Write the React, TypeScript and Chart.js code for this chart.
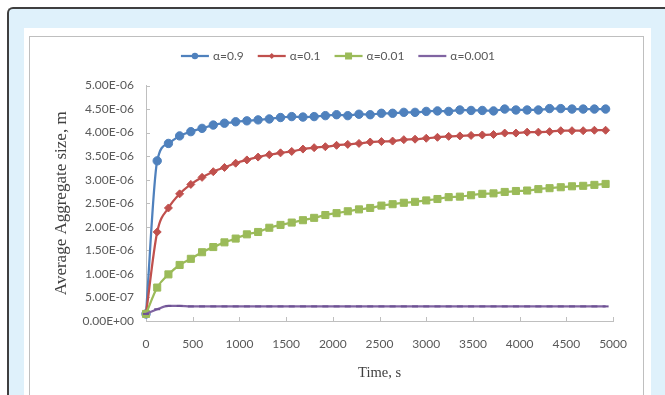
import React, { useEffect, useRef } from "react";
import { Chart, registerables } from "chart.js";

Chart.register(...registerables);

// Time axis (s)
const timesS = [
  0, 120, 240, 360, 480, 600, 720, 840, 960, 1080,
  1200, 1320, 1440, 1560, 1680, 1800, 1920, 2040, 2160, 2280,
  2400, 2520, 2640, 2760, 2880, 3000, 3120, 3240, 3360, 3480,
  3600, 3720, 3840, 3960, 4080, 4200, 4320, 4440, 4560, 4680,
  4800, 4920,
];

// Average aggregate size, in units of 1E-06 m
const alpha09 = [
  0.15, 3.40, 3.77, 3.93, 4.02, 4.09, 4.16, 4.20, 4.23, 4.25,
  4.27, 4.29, 4.32, 4.34, 4.33, 4.34, 4.36, 4.38, 4.36, 4.39,
  4.38, 4.41, 4.41, 4.43, 4.43, 4.45, 4.46, 4.45, 4.48, 4.47,
  4.47, 4.46, 4.50, 4.48, 4.48, 4.48, 4.51, 4.51, 4.50, 4.50,
  4.50, 4.50,
];
const alpha01 = [
  0.15, 1.89, 2.40, 2.70, 2.90, 3.05, 3.17, 3.26, 3.35, 3.42,
  3.48, 3.53, 3.57, 3.60, 3.65, 3.68, 3.70, 3.73, 3.75, 3.77,
  3.80, 3.81, 3.82, 3.85, 3.86, 3.88, 3.90, 3.92, 3.93, 3.94,
  3.95, 3.96, 3.99, 3.99, 4.01, 4.01, 4.02, 4.04, 4.04, 4.04,
  4.05, 4.05,
];
const alpha001 = [
  0.15, 0.71, 0.99, 1.19, 1.32, 1.46, 1.57, 1.67, 1.75, 1.84,
  1.89, 1.98, 2.04, 2.09, 2.14, 2.19, 2.25, 2.29, 2.33, 2.37,
  2.40, 2.45, 2.48, 2.51, 2.53, 2.56, 2.59, 2.63, 2.64, 2.67,
  2.70, 2.71, 2.74, 2.76, 2.77, 2.80, 2.82, 2.84, 2.86, 2.87,
  2.89, 2.91,
];
const alpha0001 = [
  0.15, 0.25, 0.32, 0.32, 0.31, 0.31, 0.31, 0.31, 0.31, 0.31,
  0.31, 0.31, 0.31, 0.31, 0.31, 0.31, 0.31, 0.31, 0.31, 0.31,
  0.31, 0.31, 0.31, 0.31, 0.31, 0.31, 0.31, 0.31, 0.31, 0.31,
  0.31, 0.31, 0.31, 0.31, 0.31, 0.31, 0.31, 0.31, 0.31, 0.31,
  0.31, 0.31,
];

const seriesLabels = ["α=0.9", "α=0.1", "α=0.01", "α=0.001"];
const xTickLabels = ["0", "500", "1000", "1500", "2000", "2500", "3000", "3500", "4000", "4500", "5000"];
const yTickLabels = [
  "0.00E+00", "5.00E-07", "1.00E-06", "1.50E-06", "2.00E-06", "2.50E-06",
  "3.00E-06", "3.50E-06", "4.00E-06", "4.50E-06", "5.00E-06",
];
const xTitle = "Time, s";
const yTitle = "Average Aggregate size, m";

const TICK_COLOR = "#595959";
const AXIS_COLOR = "#BFBFBF";

type Legendish = { pointStyle: string; legendRadius: number };

function drawMarker(ctx: CanvasRenderingContext2D, style: string, x: number, y: number, r: number, color: string) {
  ctx.fillStyle = color;
  ctx.beginPath();
  if (style === "circle") {
    ctx.arc(x, y, r, 0, Math.PI * 2);
    ctx.fill();
  } else if (style === "rectRot") {
    ctx.moveTo(x, y - r);
    ctx.lineTo(x + r, y);
    ctx.lineTo(x, y + r);
    ctx.lineTo(x - r, y);
    ctx.closePath();
    ctx.fill();
  } else if (style === "rect") {
    ctx.rect(x - r, y - r, r * 2, r * 2);
    ctx.fill();
  }
}

const excelLegend = {
  id: "excelLegend",
  afterDraw(chart: any) {
    const ctx: CanvasRenderingContext2D = chart.ctx;
    ctx.save();
    ctx.font = "12px Lato";
    ctx.textBaseline = "middle";
    ctx.textAlign = "left";
    const lineLen = 28;
    const gapText = 4;
    const gapItem = 14;
    const items = chart.data.datasets.map((ds: any) => ({ ds, w: ctx.measureText(ds.label).width }));
    const total =
      items.reduce((s: number, it: any) => s + lineLen + gapText + it.w, 0) + gapItem * (items.length - 1);
    let x = chart.width / 2 - total / 2 + 1.5;
    const y = 19;
    for (const it of items) {
      const ds = it.ds;
      ctx.strokeStyle = ds.borderColor;
      ctx.lineWidth = 2.25;
      ctx.beginPath();
      ctx.moveTo(x, y);
      ctx.lineTo(x + lineLen, y);
      ctx.stroke();
      const leg = ds as Legendish;
      drawMarker(ctx, leg.pointStyle, x + lineLen / 2, y, leg.legendRadius, ds.pointBackgroundColor);
      ctx.fillStyle = TICK_COLOR;
      ctx.fillText(ds.label, x + lineLen + gapText, y + 0.5);
      x += lineLen + gapText + it.w + gapItem;
    }
    ctx.restore();
  },
};

const innerTicks = {
  id: "innerTicks",
  beforeDatasetsDraw(chart: any) {
    const { ctx, chartArea, scales } = chart;
    const xs = scales.x;
    const ys = scales.y;
    ctx.save();
    ctx.strokeStyle = AXIS_COLOR;
    ctx.lineWidth = 1;
    ctx.beginPath();
    xs.ticks.forEach((t: any) => {
      const px = Math.round(xs.getPixelForValue(t.value)) + 0.5;
      ctx.moveTo(px, chartArea.bottom);
      ctx.lineTo(px, chartArea.bottom - 4);
    });
    ys.ticks.forEach((t: any) => {
      const py = Math.round(ys.getPixelForValue(t.value)) + 0.5;
      ctx.moveTo(chartArea.left, py);
      ctx.lineTo(chartArea.left + 4, py);
    });
    ctx.stroke();
    ctx.restore();
  },
};

function pts(ys: number[]) {
  return timesS.map((t, i) => ({ x: t, y: ys[i] }));
}

export default function App() {
  const canvasRef = useRef<HTMLCanvasElement | null>(null);

  useEffect(() => {
    document.body.style.margin = "0";
    document.body.style.overflow = "hidden";
    const canvas = canvasRef.current;
    if (!canvas) return;
    const common = {
      borderWidth: 2.25,
      cubicInterpolationMode: "monotone" as const,
      tension: 0.4,
      clip: false as any,
      pointBorderWidth: 1,
    };
    const chart = new Chart(canvas, {
      type: "line",
      data: {
        datasets: [
          {
            ...common,
            label: seriesLabels[0],
            data: pts(alpha09),
            borderColor: "#4F81BD",
            backgroundColor: "#4F81BD",
            pointBackgroundColor: "#4F81BD",
            pointBorderColor: "#4F81BD",
            pointStyle: "circle",
            pointRadius: 4.2,
            legendRadius: 3.2,
            order: 4,
          } as any,
          {
            ...common,
            label: seriesLabels[1],
            data: pts(alpha01),
            borderColor: "#C0504D",
            backgroundColor: "#C0504D",
            pointBackgroundColor: "#C0504D",
            pointBorderColor: "#C0504D",
            pointStyle: "rectRot",
            pointRadius: 4,
            legendRadius: 3,
            order: 3,
          } as any,
          {
            ...common,
            label: seriesLabels[2],
            data: pts(alpha001),
            borderColor: "#9BBB59",
            backgroundColor: "#9BBB59",
            pointBackgroundColor: "#9BBB59",
            pointBorderColor: "#9BBB59",
            pointStyle: "rect",
            pointRadius: 5,
            legendRadius: 3.5,
            order: 2,
          } as any,
          {
            ...common,
            label: seriesLabels[3],
            data: pts(alpha0001),
            borderColor: "#8064A2",
            backgroundColor: "#8064A2",
            pointBackgroundColor: "#7A5C9E",
            pointBorderColor: "#6E5294",
            pointStyle: "line",
            pointRadius: 3,
            pointBorderWidth: 2,
            legendRadius: 0,
            order: 1,
          } as any,
        ],
      },
      options: {
        responsive: false,
        animation: false,
        devicePixelRatio: 1,
        layout: { padding: { top: 48.5, right: 28.5, left: 0, bottom: 0 } },
        plugins: {
          legend: { display: false },
          tooltip: { enabled: false },
          title: { display: false },
        },
        scales: {
          x: {
            type: "linear",
            min: 0,
            max: 5000,
            grid: { display: false, drawTicks: false },
            border: { display: true, color: AXIS_COLOR, width: 1 },
            ticks: {
              stepSize: 500,
              color: TICK_COLOR,
              font: { family: "Lato", size: 12 },
              padding: 16,
              maxRotation: 0,
              autoSkip: false,
              callback: (_v: any, i: number) => xTickLabels[i],
            },
            title: {
              display: true,
              text: xTitle,
              color: "#404040",
              font: { family: "Liberation Serif", size: 14.5 },
              padding: { top: 0, bottom: 13 },
            },
            afterFit: (scale: any) => {
              scale.height = 74;
            },
          },
          y: {
            type: "linear",
            min: 0,
            max: 5,
            grid: { display: false, drawTicks: false },
            border: { display: true, color: AXIS_COLOR, width: 1 },
            ticks: {
              stepSize: 0.5,
              color: TICK_COLOR,
              font: { family: "Lato", size: 12 },
              padding: 12,
              autoSkip: false,
              callback: (_v: any, i: number) => yTickLabels[i],
            },
            title: {
              display: true,
              text: yTitle,
              color: "#404040",
              font: { family: "Liberation Serif", size: 17 },
              padding: { top: 21, bottom: 0 },
            },
            afterFit: (scale: any) => {
              scale.width = 116;
            },
          },
        },
      },
      plugins: [innerTicks, excelLegend],
    });
    return () => chart.destroy();
  }, []);

  return (
    <div>
      <div
        style={{
          position: "absolute",
          left: 7,
          top: 7,
          width: 656,
          height: 386,
          borderTop: "2px solid #3f3f3f",
          borderLeft: "2px solid #3f3f3f",
          borderTopLeftRadius: 6,
          background: "#DFF1FB",
        }}
      />
      <div
        style={{
          position: "absolute",
          left: 24,
          top: 28,
          width: 627,
          height: 367,
          background: "#FFFFFF",
        }}
      />
      <div
        style={{
          position: "absolute",
          left: 29,
          top: 36,
          width: 613,
          height: 359,
          borderTop: "1px solid #BFBFBF",
          borderLeft: "1px solid #BFBFBF",
          borderRight: "1px solid #BFBFBF",
          background: "#FFFFFF",
        }}
      >
        <canvas
          ref={canvasRef}
          width={613}
          height={358}
          style={{ display: "block", width: 613, height: 358 }}
        />
      </div>
    </div>
  );
}
